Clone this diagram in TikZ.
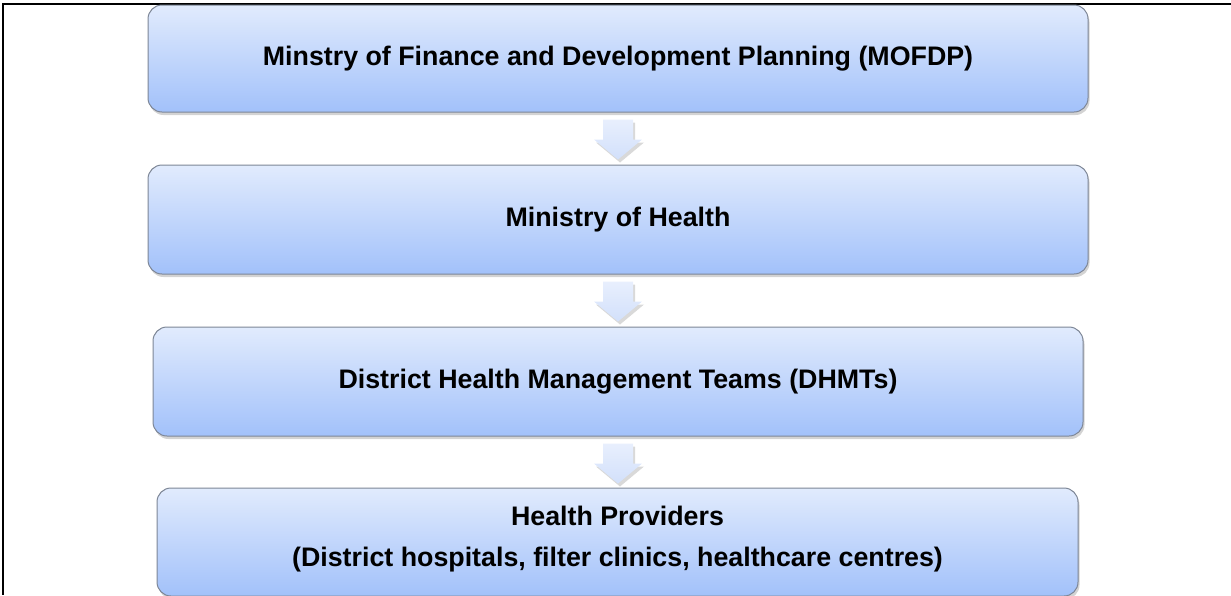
\documentclass[tikz,border=0pt]{standalone}
\usepackage{fontspec}
\setmainfont{Liberation Sans}
\usetikzlibrary{calc,shadows}
\definecolor{boxtop}{HTML}{E1EBFD}
\definecolor{boxbot}{HTML}{A2C1FA}
\definecolor{boxedge}{HTML}{7D8696}
\definecolor{arrtop}{HTML}{E8EFFD}
\definecolor{arrbot}{HTML}{D2E0FB}
\tikzset{
  stagebox/.style={draw=boxedge, line width=1pt, rounded corners=14pt,
    top color=boxtop, bottom color=boxbot,
    drop shadow={shadow xshift=1.5pt, shadow yshift=-3pt, opacity=0.35},
    font=\bfseries\fontsize{26.8}{41}\selectfont, align=center, inner sep=0pt},
  flowarrow/.style={draw=none, top color=arrtop, bottom color=arrbot,
    drop shadow={shadow xshift=2pt, shadow yshift=-3pt, opacity=0.3}},
  frameline/.style={line width=1.5pt, black}
}
\begin{document}
\begin{tikzpicture}[x=1pt,y=-1pt]
\useasboundingbox (0,0) rectangle (1231,595);
\begin{scope}
\clip (0,0) rectangle (1231,595);
\draw[frameline] (2,4) -- (1231,4);
\draw[frameline] (3,4) -- (3,595);
\node[stagebox, minimum width=940pt, minimum height=107pt] (b1) at (618,58.5)
  {Minstry of Finance and Development Planning (MOFDP)};
\node[stagebox, minimum width=940pt, minimum height=109pt] (b2) at (618,219.5)
  {Ministry of Health};
\node[stagebox, minimum width=930pt, minimum height=109pt] (b3) at (618,381.5)
  {District Health Management Teams (DHMTs)};
\node[stagebox, minimum width=921pt, minimum height=108pt, text depth=12pt] (b4) at (617.5,542)
  {Health Providers\\(District hospitals, filter clinics, healthcare centres)};
\foreach \a/\b in {b1/b2, b2/b3, b3/b4}{
  \coordinate (t\a) at ($(\a.south)+(0,7)$);
  \path[flowarrow] ($(t\a)+(-15,0)$) -- ($(t\a)+(15,0)$) -- ($(t\a)+(15,20)$)
    -- ($(t\a)+(24,20)$) -- ($(t\a)+(0,40)$) -- ($(t\a)+(-24,20)$)
    -- ($(t\a)+(-15,20)$) -- cycle;
}
\end{scope}
\end{tikzpicture}
\end{document}
